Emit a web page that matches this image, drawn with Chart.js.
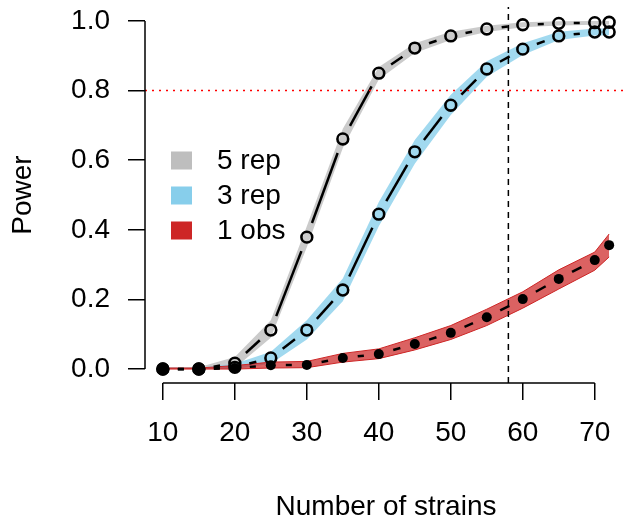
<!DOCTYPE html>
<html>
<head>
<meta charset="utf-8">
<script src="https://cdn.jsdelivr.net/npm/chart.js@4.4.1/dist/chart.umd.min.js"></script>
<style>
html,body{margin:0;padding:0;background:#fff}
</style>
</head>
<body>
<canvas id="myChart" width="629" height="521"></canvas>
<script>
// number of strains (x)
var strains=[10,15,20,25,30,35,40,45,50,55,60,65,70,72]

// power estimates and their bands
var rep5=[0,0,0.017,0.112,0.379,0.661,0.850,0.922,0.957,0.977,0.989,0.993,0.995,0.996]
var rep5Lo=[0,0,0.003,0.09,0.35,0.635,0.832,0.908,0.945,0.968,0.982,0.987,0.989,0.990]
var rep5Hi=[0.005,0.005,0.035,0.14,0.41,0.69,0.868,0.936,0.969,0.986,0.996,0.999,1.0,1.0]

var rep3=[0,0,0.005,0.032,0.112,0.227,0.445,0.624,0.758,0.862,0.919,0.957,0.968,0.968]
var rep3Lo=[0,0,0,0.015,0.085,0.195,0.41,0.59,0.73,0.84,0.902,0.945,0.958,0.959]
var rep3Hi=[0.004,0.004,0.015,0.05,0.14,0.26,0.48,0.658,0.788,0.884,0.936,0.969,0.978,0.978]

var obs1=[0,0,0.003,0.011,0.012,0.032,0.043,0.072,0.104,0.149,0.201,0.259,0.313,0.356]
var obs1Lo=[0,0,0,0.003,0.004,0.02,0.03,0.055,0.085,0.125,0.175,0.23,0.284,0.322]
var obs1Hi=[0.003,0.003,0.01,0.02,0.022,0.045,0.058,0.09,0.125,0.172,0.222,0.285,0.336,0.388]

var xTicks=[10,20,30,40,50,60,70]
var yTicks=[0,0.2,0.4,0.6,0.8,1.0]
var powerTarget=0.8
var strainMark=58

var legendLabels=["5 rep","3 rep","1 obs"]
var legendColors=["#bebebe","#87ceeb","#cd2626"]

var fontName="'Liberation Sans', Arial, Helvetica, sans-serif"

// R style range: data range plus 4%
var xMin=strains[0]-0.04*(strains[strains.length-1]-strains[0])
var xMax=strains[strains.length-1]+0.04*(strains[strains.length-1]-strains[0])
var yMin=-0.04, yMax=1.04

function pts(ys){
    return strains.map(function(x,i){return {x:x,y:ys[i]}})
}

// type="b" look: leave a gap round every point
function gapDash(c){
    var len=Math.hypot(c.p1.x-c.p0.x,c.p1.y-c.p0.y)
    if(!isFinite(len)) return []
    var g=15
    return [0,g,Math.max(len-2*g,0),len+100]
}
function gapOffset(c){ return c.p0DataIndex*0.001 }

function pointLine(label,ys,filled){
    return {
        label:label,
        data:pts(ys),
        borderColor:"#000",
        borderWidth:2.5,
        pointRadius:filled?5:5.4,
        pointBorderWidth:filled?0:2.6,
        pointBorderColor:"#000",
        pointBackgroundColor:filled?"#000":"transparent",
        fill:false,
        tension:0,
        order:0,
        segment:{borderDash:gapDash,borderDashOffset:gapOffset}
    }
}

function bandEdge(ys,fillColor,edgeColor,ord,top){
    return {
        data:pts(ys),
        borderColor:edgeColor,
        borderWidth:edgeColor==="transparent"?0:1,
        backgroundColor:fillColor,
        pointRadius:0,
        fill:top?"+1":false,
        tension:0,
        order:ord
    }
}

var datasets=[
    pointLine("5 rep",rep5,false),
    pointLine("3 rep",rep3,false),
    pointLine("1 obs",obs1,true),
    bandEdge(rep5Hi,"rgba(190,190,190,0.8)","transparent",5,true),
    bandEdge(rep5Lo,"rgba(190,190,190,0.8)","transparent",5,false),
    bandEdge(rep3Hi,"rgba(135,206,235,0.78)","transparent",4,true),
    bandEdge(rep3Lo,"rgba(135,206,235,0.78)","transparent",4,false),
    bandEdge(obs1Hi,"rgba(205,38,38,0.72)","#cd2626",3,true),
    bandEdge(obs1Lo,"rgba(205,38,38,0.72)","#cd2626",3,false),
    {
        data:[{x:xMin,y:powerTarget},{x:xMax,y:powerTarget}],
        borderColor:"#ff0000",borderWidth:1.5,borderDash:[2,5],
        pointRadius:0,fill:false,order:-1
    },
    {
        data:[{x:strainMark,y:yMin},{x:strainMark,y:yMax}],
        borderColor:"#000",borderWidth:1.5,borderDash:[6,5],
        pointRadius:0,fill:false,order:-1
    }
]

var axisLines={
    id:"axisLines",
    afterDraw:function(chart){
        var c=chart.ctx,a=chart.chartArea
        var xs=chart.scales.x,ys=chart.scales.y
        c.save()
        c.strokeStyle="#000"
        c.lineWidth=1.5
        c.beginPath()
        c.moveTo(xs.getPixelForValue(xTicks[0]),a.bottom)
        c.lineTo(xs.getPixelForValue(xTicks[xTicks.length-1]),a.bottom)
        c.moveTo(a.left,ys.getPixelForValue(yTicks[0]))
        c.lineTo(a.left,ys.getPixelForValue(yTicks[yTicks.length-1]))
        c.stroke()
        c.restore()
    }
}

var boxLegend={
    id:"boxLegend",
    afterDatasetsDraw:function(chart){
        var c=chart.ctx
        c.save()
        c.font="28px "+fontName
        c.textBaseline="middle"
        c.textAlign="left"
        for(var i=0;i<legendLabels.length;i++){
            var cy=160.5+i*35
            c.fillStyle=legendColors[i]
            c.fillRect(171,cy-9,21,18)
            c.fillStyle="#000"
            c.fillText(legendLabels[i],217,cy+1)
        }
        c.restore()
    }
}

function noPad(s){
    s.paddingTop=0;s.paddingBottom=0;s.paddingLeft=0;s.paddingRight=0
}

var ctx=document.getElementById("myChart")
var myChart=new Chart(ctx,{
    type:"line",
    data:{datasets:datasets},
    plugins:[axisLines,boxLegend],
    options:{
        responsive:false,
        animation:false,
        devicePixelRatio:1,
        layout:{padding:{top:7,right:2,left:0,bottom:0},autoPadding:false},
        plugins:{legend:{display:false},tooltip:{enabled:false}},
        scales:{
            x:{
                type:"linear",
                min:xMin,max:xMax,
                afterBuildTicks:function(s){s.ticks=xTicks.map(function(v){return {value:v}})},
                afterFit:function(s){s.height=138;noPad(s)},
                border:{display:false},
                grid:{drawOnChartArea:false,drawTicks:true,tickLength:17,color:"#000",lineWidth:1.5},
                ticks:{color:"#000",font:{family:fontName,size:28},padding:16,maxRotation:0,autoSkip:false},
                title:{display:true,text:"Number of strains",color:"#000",font:{family:fontName,size:28,lineHeight:1},padding:{top:0,bottom:0}}
            },
            y:{
                type:"linear",
                min:yMin,max:yMax,
                afterBuildTicks:function(s){s.ticks=yTicks.map(function(v){return {value:v}})},
                afterFit:function(s){s.width=145;noPad(s)},
                border:{display:false},
                grid:{drawOnChartArea:false,drawTicks:true,tickLength:17,color:"#000",lineWidth:1.5},
                ticks:{color:"#000",font:{family:fontName,size:28},padding:18,autoSkip:false,
                    callback:function(v){return v.toFixed(1)}},
                title:{display:true,text:"Power",color:"#000",font:{family:fontName,size:28,lineHeight:1},padding:{top:9,bottom:0}}
            }
        }
    }
})
</script>
</body>
</html>
